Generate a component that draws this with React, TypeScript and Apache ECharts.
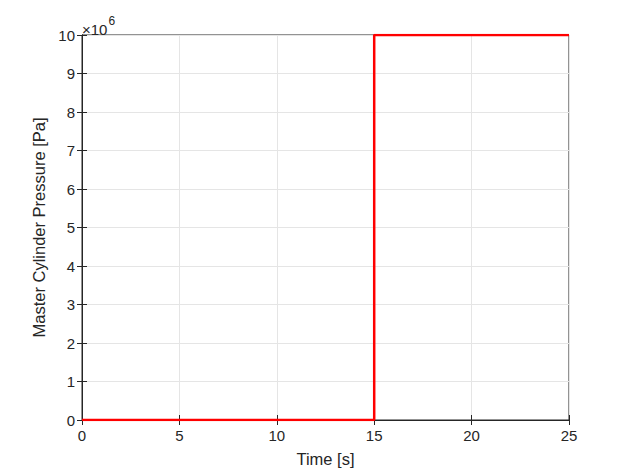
import React, { useEffect, useRef } from "react";
import * as echarts from "echarts";

const timeValues = [0, 15, 15, 25];
const pressureValues = [0, 0, 1e7, 1e7];
const xTicks = [0, 5, 10, 15, 20, 25];
const yTicks = [0, 1, 2, 3, 4, 5, 6, 7, 8, 9, 10];

export default function App() {
  const ref = useRef<HTMLDivElement>(null);
  useEffect(() => {
    if (!ref.current) return;
    const chart = echarts.init(ref.current, undefined, { renderer: "svg" });
    const font = "Helvetica, Arial, 'Liberation Sans', sans-serif";
    const axisColor = "#262626";
    const gridLine = { show: true, lineStyle: { color: "#e5e5e5", width: 1 } };
    chart.setOption({
      animation: false,
      backgroundColor: "#ffffff",
      grid: {
        left: 82,
        top: 35,
        right: 60,
        bottom: 52,
        show: true,
        borderColor: axisColor,
        borderWidth: 1,
      },
      xAxis: [
        {
          type: "value",
          min: xTicks[0],
          max: xTicks[xTicks.length - 1],
          interval: 5,
          name: "Time [s]",
          nameLocation: "middle",
          nameGap: 30,
          nameTextStyle: { color: axisColor, fontSize: 16.5, fontFamily: font },
          axisLine: { show: true, lineStyle: { color: axisColor, width: 1 } },
          axisTick: { show: true, inside: true, length: 5, lineStyle: { color: axisColor } },
          axisLabel: { color: axisColor, fontSize: 15, fontFamily: font, margin: 8 },
          splitLine: gridLine,
        },
        {
          type: "value",
          position: "top",
          min: xTicks[0],
          max: xTicks[xTicks.length - 1],
          interval: 5,
          axisLine: { show: true, lineStyle: { color: axisColor, width: 1 } },
          axisTick: { show: true, inside: true, length: 5, lineStyle: { color: axisColor } },
          axisLabel: { show: false },
          splitLine: { show: false },
        },
      ],
      yAxis: [
        {
          type: "value",
          min: 0,
          max: yTicks[yTicks.length - 1] * 1e6,
          interval: 1e6,
          name: "Master Cylinder Pressure [Pa]",
          nameLocation: "middle",
          nameGap: 32,
          nameTextStyle: { color: axisColor, fontSize: 16.5, fontFamily: font },
          axisLine: { show: true, lineStyle: { color: axisColor, width: 1 } },
          axisTick: { show: true, inside: true, length: 5, lineStyle: { color: axisColor } },
          axisLabel: {
            color: axisColor,
            fontSize: 15,
            fontFamily: font,
            margin: 7,
            formatter: (v: number) => String(Math.round(v / 1e6)),
          },
          splitLine: gridLine,
        },
        {
          type: "value",
          position: "right",
          min: 0,
          max: yTicks[yTicks.length - 1] * 1e6,
          interval: 1e6,
          axisLine: { show: true, lineStyle: { color: axisColor, width: 1 } },
          axisTick: { show: true, inside: true, length: 5, lineStyle: { color: axisColor } },
          axisLabel: { show: false },
          splitLine: { show: false },
        },
      ],
      graphic: [
        {
          type: "text",
          left: 82,
          top: 14,
          style: {
            text: "{a|×10}{b|6}",
            rich: {
              a: { fontSize: 15, fontFamily: font, fill: axisColor, verticalAlign: "bottom", lineHeight: 22, padding: [8, 0, 0, 0] },
              b: { fontSize: 12, fontFamily: font, fill: axisColor, verticalAlign: "top", lineHeight: 22, padding: [0, 0, 8, 1] },
            },
          },
        },
      ],
      series: [
        {
          type: "line",
          xAxisIndex: 0,
          yAxisIndex: 0,
          data: timeValues.map((t, i) => [t, pressureValues[i]]),
          showSymbol: false,
          symbol: "none",
          lineStyle: { color: "#ff0000", width: 2.5 },
          z: 10,
        },
      ],
    });
    return () => chart.dispose();
  }, []);
  return <div ref={ref} style={{ width: 629, height: 472, position: "absolute", left: 0, top: 0 }} />;
}
